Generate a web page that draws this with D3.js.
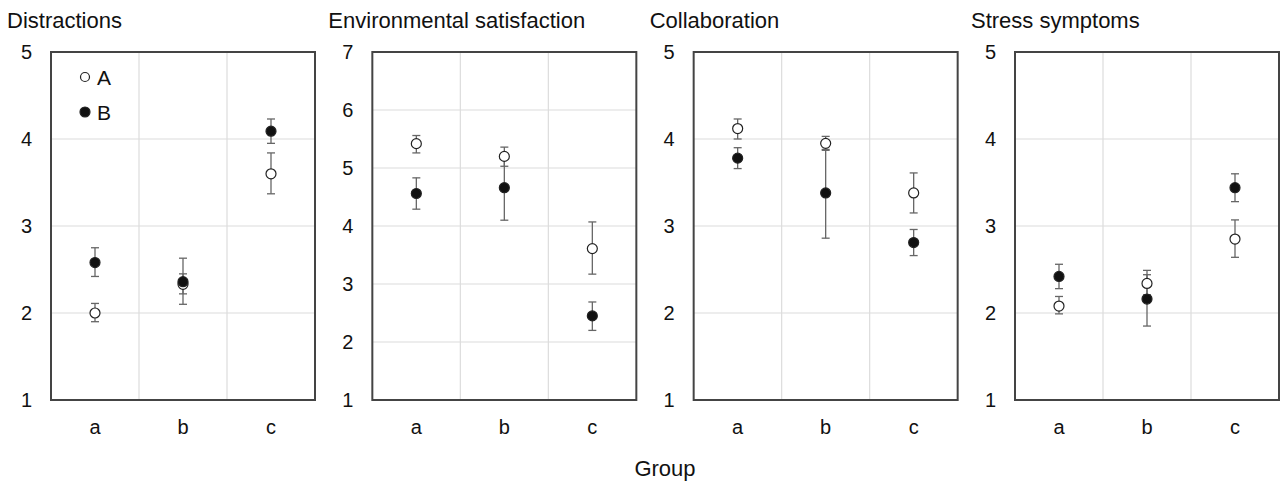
<!DOCTYPE html>
<html>
<head>
<meta charset="utf-8">
<script src="https://cdn.jsdelivr.net/npm/d3@7/dist/d3.min.js"></script>
<style>
  html, body { margin: 0; padding: 0; background: #fff; }
  svg { display: block; font-family: "Liberation Sans", Arial, sans-serif; }
</style>
</head>
<body>
<svg id="chart" width="1282" height="483"></svg>
<script>
// ---- data ----
const groups = ["a", "b", "c"];
const panelTitles = ["Distractions", "Environmental satisfaction", "Collaboration", "Stress symptoms"];
const yDomains = [[1, 5], [1, 7], [1, 5], [1, 5]];
const yTicks = [[1, 2, 3, 4, 5], [1, 2, 3, 4, 5, 6, 7], [1, 2, 3, 4, 5], [1, 2, 3, 4, 5]];
const seriesNames = ["A", "B"];

// means per panel, per group
const meanA = [[2.00, 2.33, 3.60], [5.42, 5.20, 3.61], [4.12, 3.95, 3.38], [2.08, 2.34, 2.85]];
const lowA  = [[1.90, 2.22, 3.37], [5.26, 5.03, 3.17], [4.00, 3.87, 3.15], [1.99, 2.21, 2.64]];
const highA = [[2.11, 2.45, 3.84], [5.56, 5.36, 4.07], [4.23, 4.03, 3.61], [2.19, 2.49, 3.07]];

const meanB = [[2.58, 2.36, 4.09], [4.56, 4.66, 2.45], [3.78, 3.38, 2.81], [2.42, 2.16, 3.44]];
const lowB  = [[2.42, 2.10, 3.95], [4.29, 4.10, 2.20], [3.66, 2.86, 2.66], [2.28, 1.85, 3.28]];
const highB = [[2.75, 2.63, 4.23], [4.83, 5.22, 2.69], [3.90, 3.88, 2.96], [2.56, 2.44, 3.60]];

const xAxisTitle = "Group";

// ---- layout ----
const svg = d3.select("#chart");
const panelW = 264, plotTop = 52, plotBottom = 400;
const panelX = d3.scaleLinear().domain([0, 3]).range([51, 1015]);

const series = [
  { name: seriesNames[0], mean: meanA, low: lowA, high: highA, fill: "#ffffff" },
  { name: seriesNames[1], mean: meanB, low: lowB, high: highB, fill: "#111111" }
];

panelTitles.forEach((title, p) => {
  const g = svg.append("g").attr("transform", `translate(${panelX(p)},0)`);
  const x = d3.scaleBand().domain(groups).range([0, panelW]);
  const y = d3.scaleLinear().domain(yDomains[p]).range([plotBottom, plotTop]);

  // grid lines
  g.append("g").selectAll("line").data(yTicks[p].slice(1, -1)).join("line")
    .attr("x1", 0).attr("x2", panelW)
    .attr("y1", d => y(d)).attr("y2", d => y(d))
    .attr("stroke", "#dcdcdc").attr("stroke-width", 1.2);
  g.append("g").selectAll("line").data(groups.slice(1)).join("line")
    .attr("x1", d => x(d)).attr("x2", d => x(d))
    .attr("y1", plotTop).attr("y2", plotBottom)
    .attr("stroke", "#dcdcdc").attr("stroke-width", 1.2);

  // border
  g.append("rect").attr("x", 0).attr("y", plotTop).attr("width", panelW).attr("height", plotBottom - plotTop)
    .attr("fill", "none").attr("stroke", "#444").attr("stroke-width", 2);

  // y axis labels
  const yAxis = d3.axisLeft(y).tickValues(yTicks[p]).tickSize(0).tickPadding(19).tickFormat(d3.format("d"));
  const ya = g.append("g").call(yAxis);
  ya.select(".domain").remove();
  ya.selectAll("text").attr("font-size", 20).attr("fill", "#111")
    .attr("font-family", "'Liberation Sans', Arial, sans-serif");

  // x axis labels
  const xAxis = d3.axisBottom(x).tickSize(0).tickPadding(20);
  const xa = g.append("g").attr("transform", `translate(0,${plotBottom})`).call(xAxis);
  xa.select(".domain").remove();
  xa.selectAll("text").attr("font-size", 20).attr("fill", "#111")
    .attr("font-family", "'Liberation Sans', Arial, sans-serif");

  // title
  g.append("text").attr("x", -44).attr("y", 28).attr("font-size", 22).attr("fill", "#111").text(title);

  const cx = d => x(d) + x.bandwidth() / 2;

  // error bars
  series.forEach(s => {
    const eb = g.append("g");
    groups.forEach((grp, i) => {
      const lo = y(s.low[p][i]), hi = y(s.high[p][i]), xc = cx(grp);
      eb.append("line").attr("x1", xc).attr("x2", xc).attr("y1", lo).attr("y2", hi)
        .attr("stroke", "#666").attr("stroke-width", 1.3);
      [lo, hi].forEach(yy => eb.append("line").attr("x1", xc - 4).attr("x2", xc + 4)
        .attr("y1", yy).attr("y2", yy).attr("stroke", "#666").attr("stroke-width", 1.3));
    });
  });
  // markers
  series.forEach(s => {
    g.append("g").selectAll("circle").data(groups).join("circle")
      .attr("cx", d => cx(d))
      .attr("cy", (d, i) => y(s.mean[p][i]))
      .attr("r", 5)
      .attr("fill", s.fill)
      .attr("stroke", "#222").attr("stroke-width", 1.2);
  });

  // legend in first panel
  if (p === 0) {
    const lg = g.append("g");
    series.forEach((s, i) => {
      lg.append("circle").attr("cx", 34).attr("cy", 77 + i * 35).attr("r", s.name === "A" ? 4.5 : 5)
        .attr("fill", s.fill).attr("stroke", "#222").attr("stroke-width", 1.2);
      lg.append("text").attr("x", 46).attr("y", 77 + i * 35).attr("dy", "0.36em")
        .attr("font-size", 21).attr("fill", "#111").text(s.name);
    });
  }
});

svg.append("text").attr("x", 665).attr("y", 476).attr("text-anchor", "middle")
  .attr("font-size", 22).attr("fill", "#111").text(xAxisTitle);
</script>
</body>
</html>
